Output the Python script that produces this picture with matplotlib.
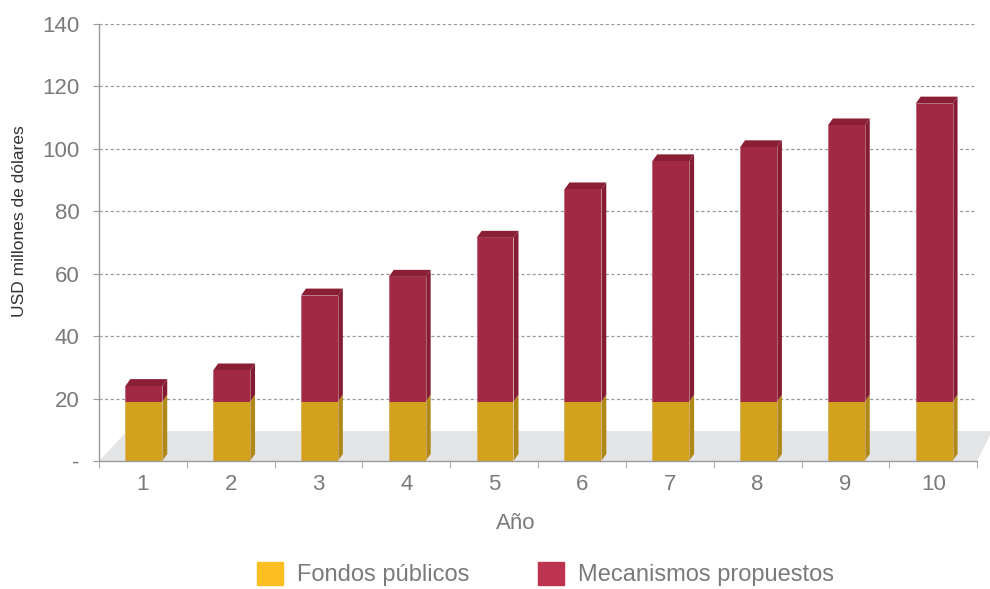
import matplotlib
matplotlib.use("Agg")
import matplotlib.pyplot as plt
from matplotlib.patches import Patch

# Data
years = [1, 2, 3, 4, 5, 6, 7, 8, 9, 10]
fondos_publicos = [19, 19, 19, 19, 19, 19, 19, 19, 19, 19]
mecanismos_propuestos = [5, 10, 34, 40, 52.5, 68, 77, 81.5, 88.5, 95.5]
yticks = [0, 20, 40, 60, 80, 100, 120, 140]
ytick_labels = ["-", "20", "40", "60", "80", "100", "120", "140"]

# Styling
Y_FRONT, Y_SIDE = "#D3A21C", "#B08816"
R_FRONT, R_SIDE, R_TOP = "#A12944", "#861C33", "#8A1E35"
LEG_Y, LEG_R = "#FBBF22", "#BD3450"
TXT = "#7a7a7a"
FONT = ["Liberation Sans", "DejaVu Sans"]
plt.rcParams["font.family"] = FONT

fig = plt.figure(figsize=(9.9, 5.89), dpi=100)
ax = fig.add_axes([0.1, 0.2173, 0.887, 0.7419])
ax.set_xlim(0.5, 10.5)
ax.set_ylim(0, 140)

# gridlines
for t in yticks[1:]:
    ax.axhline(t, color="#9a9a9a", lw=0.9, ls=(0, (2.5, 2)), zorder=0.5)

# floor
floor_h = 9.6
ax.fill([0.5, 10.5, 10.67, 0.82], [0, 0, floor_h, floor_h],
        color="#E4E5E7", zorder=1, clip_on=False, lw=0)

w = 0.42
dx, dy = 0.057, 2.24
for x, f, m in zip(years, fondos_publicos, mecanismos_propuestos):
    xl, xr = x - w / 2 + 0.01, x + w / 2 + 0.01
    xc = (xl + xr) / 2
    tot = f + m
    # front faces
    ax.bar(xc, f, width=w, color=Y_FRONT, zorder=3, lw=0)
    ax.bar(xc, m, bottom=f, width=w, color=R_FRONT, zorder=3, lw=0)
    # side faces
    ax.fill([xr, xr + dx, xr + dx, xr], [0, dy, f + dy, f], color=Y_SIDE, zorder=2.9, lw=0)
    ax.fill([xr, xr + dx, xr + dx, xr], [f, f + dy, tot + dy, tot], color=R_SIDE, zorder=2.9, lw=0)
    # top face
    ax.fill([xl, xr, xr + dx, xl + dx], [tot, tot, tot + dy, tot + dy], color=R_TOP, zorder=2.9, lw=0)
    # light edges
    ax.plot([xl, xl], [0, tot], color="#e8c9cf", lw=0.5, zorder=3.1, alpha=0.6)
    ax.plot([xr, xr], [0, tot], color="#e8c9cf", lw=0.5, zorder=3.1, alpha=0.6)

for s in ["top", "right"]:
    ax.spines[s].set_visible(False)
for s in ["left", "bottom"]:
    ax.spines[s].set_color("#9a9a9a")
    ax.spines[s].set_linewidth(1.0)
    ax.spines[s].set_zorder(4)

ax.set_yticks(yticks)
ax.set_yticklabels(ytick_labels)
ax.tick_params(axis="y", length=4, color="#9a9a9a", labelsize=16, labelcolor=TXT, pad=10)

ax.set_xticks(years)
ax.set_xticklabels([str(y) for y in years])
ax.tick_params(axis="x", length=0, labelsize=16, labelcolor=TXT, pad=9)
ax.set_xticks([i + 0.5 for i in range(0, 11)], minor=True)
ax.tick_params(axis="x", which="minor", length=5, color="#9a9a9a", direction="out")

ax.set_xlabel("Año", fontsize=16, color=TXT)
ax.xaxis.set_label_coords(0.475, -0.118)
fig.text(20 / 990, 1 - 221 / 589, "USD millones de dólares", rotation=90, fontsize=12.5,
         color="#333333", ha="center", va="center")

handles = [Patch(color=LEG_Y, label="Fondos públicos"), Patch(color=LEG_R, label="Mecanismos propuestos")]
fig.legend(handles=handles, loc="center", bbox_to_anchor=(0.551, 0.025), ncol=2, frameon=False,
           fontsize=17, labelcolor=TXT, handlelength=1.1, handleheight=1.1,
           handletextpad=0.6, columnspacing=2.9)

fig.savefig("out.png", dpi=100)
